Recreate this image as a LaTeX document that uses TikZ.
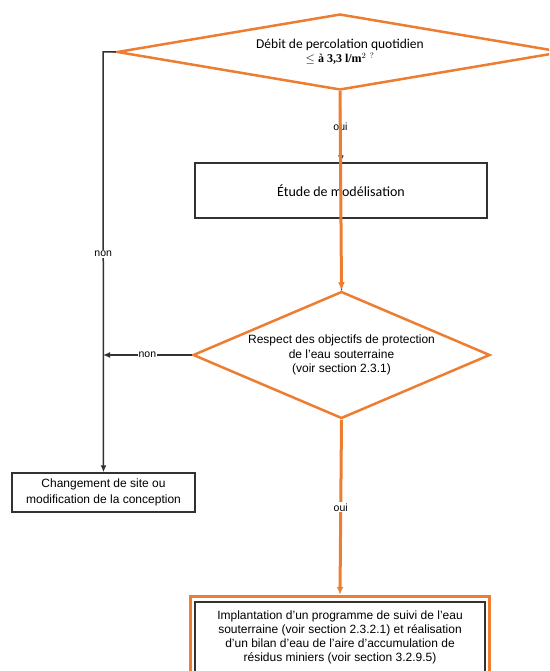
\documentclass[tikz,border=0pt]{standalone}
\usepackage{fontspec}
\setmainfont{Liberation Sans}
\newfontfamily\calib{Carlito}
\newfontfamily\tms{Liberation Serif}
\usetikzlibrary{shapes.geometric,arrows.meta,fit}
\definecolor{orng}{RGB}{237,125,49}
\definecolor{ink}{RGB}{50,50,50}

\begin{document}
\begin{tikzpicture}
[
x=1pt, y=-1pt,
dec/.style={diamond, draw=orng, line width=2.5pt, fill=white, inner sep=0pt, align=center},
box1/.style={rectangle, draw=ink, line width=1.4pt, fill=white, align=center},
txt/.style={font=\fontsize{12}{14.5}\selectfont},
lbl/.style={fill=white, inner sep=1pt, font=\fontsize{10.5}{12}\selectfont},
blk/.style={draw=ink, line width=1.5pt, -{Latex[length=7pt,width=6pt]}},
hlt/.style={draw=orng, line width=3pt, -{Latex[length=8pt,width=7pt]}},
]
\useasboundingbox (0,0) rectangle (549,671);
\clip (0,0) rectangle (549,671);

\node at (340,52) [dec, minimum width=446pt, minimum height=76pt, aspect=5.9] (perc)
  {{\calib\fontsize{13.5}{15}\selectfont Débit de percolation quotidien}\\[1pt]
   {\tms\fontsize{12}{13}\selectfont $\leq$ \textbf{à 3,3 l/m}$^{2\;\,?}$}};

\node at (341,190.5) [box1, minimum width=292pt, minimum height=55pt] (etude)
  {\calib\fontsize{14}{16}\selectfont Étude de modélisation};

\node at (341.5,355) [dec, minimum width=297pt, minimum height=127pt, aspect=2.34, txt] (resp)
  {Respect des objectifs de protection\\ de l'eau souterraine\\ (voir section 2.3.1)};

\node at (103.5,492.5) [box1, minimum width=183pt, minimum height=39pt, font=\fontsize{12}{15.5}\selectfont] (chg)
  {Changement de site ou\\ modification de la conception};

\node at (340,637) [box1, minimum width=290pt, minimum height=70pt, font=\fontsize{12}{14}\selectfont] (final)
  {Implantation d'un programme de suivi de l'eau\\ souterraine (voir section 2.3.2.1) et réalisation\\
   d'un bilan d'eau de l'aire d'accumulation de\\ résidus miniers (voir section 3.2.9.5)};
\node [fit=(final), inner xsep=3.5pt, inner ysep=5pt, draw=orng, line width=3pt] (finalhl) {};

\coordinate (c1) at (103,52);

% branches non
\draw[blk] (perc.west) -- (c1) -- (chg.north) node[pos=0.48, lbl] {non};
\draw[blk] (resp.west) -- (resp.west -| c1) node[midway, lbl] {non};

% branches oui
\draw[blk] (perc.south) -- (etude.north) node[midway, lbl] {oui};
\draw[draw=ink, line width=1.4pt] (etude.south) -- (resp.north);
\draw[hlt] (perc.south) -- (resp.north);
\draw[hlt] (resp.south) -- (finalhl.north) node[midway, lbl] {oui};

\end{tikzpicture}
\end{document}
